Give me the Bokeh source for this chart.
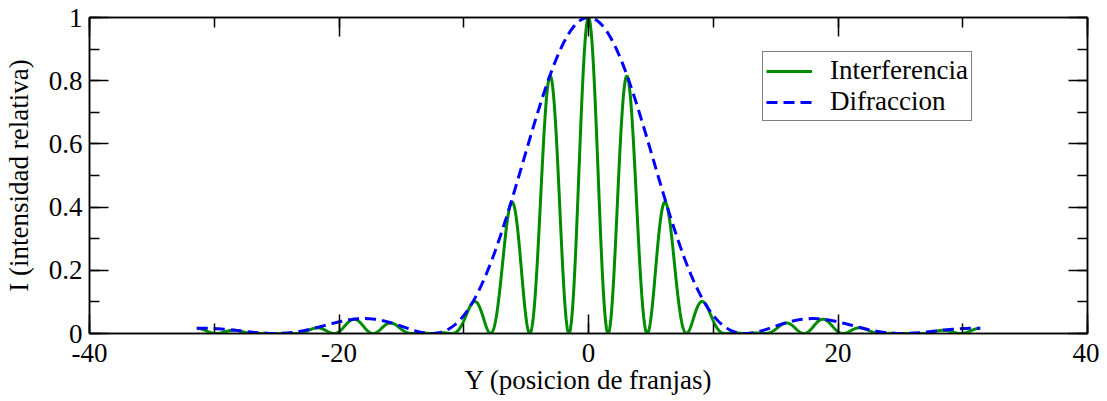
import numpy as np
from bokeh.plotting import figure
from bokeh.models import LinearAxis, SingleIntervalTicker, Range1d, Legend, LegendItem
from bokeh.embed import file_html
from bokeh.resources import INLINE

# ---- values ----
y_extent = [-31.4, 31.4]          # horizontal span of both curves
fringe_spacing = 3.14             # distance between interference maxima (0, ±3.14, ±6.28, ±9.42)
envelope_first_zero = 12.57       # first zero of the diffraction envelope
x_ticks = [-40, -20, 0, 20, 40]
x_tick_labels = ["-40", "-20", "0", "20", "40"]
y_ticks = [0, 0.2, 0.4, 0.6, 0.8, 1.0]
y_tick_labels = ["0", "0.2", "0.4", "0.6", "0.8", "1"]
series_names = ["Interferencia", "Difraccion"]
x_title = "Y (posicion de franjas)"
y_title = "I (intensidad relativa)"

# sampled curves (diffraction envelope and two-slit pattern inside it)
y_pos = np.linspace(y_extent[0], y_extent[1], 2001)
u = np.pi * y_pos / envelope_first_zero
difraccion = np.where(np.abs(u) < 1e-12, 1.0, (np.sin(u) / np.where(u == 0, 1, u)) ** 2)
interferencia = difraccion * np.cos(np.pi * y_pos / fringe_spacing) ** 2

FONT = "Liberation Serif"
FS = "27px"
GREEN = "#008c00"
BLUE = "#0000ff"

p = figure(width=1099, height=401, output_backend="svg", toolbar_location=None,
           x_range=Range1d(-40, 40), y_range=Range1d(0, 1),
           min_border_left=88, min_border_right=12, min_border_top=17, min_border_bottom=68,
           x_axis_location=None, y_axis_location=None)
p.grid.visible = False
p.outline_line_color = "black"
p.outline_line_width = 1.5
p.background_fill_color = "white"
p.border_fill_color = "white"

def style_axis(ax, ticks, labels, interval, show_labels):
    ax.ticker = SingleIntervalTicker(interval=interval, num_minor_ticks=2)
    ax.major_tick_in = 19
    ax.major_tick_out = 0
    ax.minor_tick_in = 10
    ax.minor_tick_out = 0
    ax.major_tick_line_color = "black"
    ax.minor_tick_line_color = "black"
    ax.major_tick_line_width = 1.5
    ax.minor_tick_line_width = 1.5
    ax.axis_line_color = "black"
    ax.axis_line_width = 1.5
    if show_labels:
        ax.major_label_overrides = {t: l for t, l in zip(ticks, labels)}
        ax.major_label_text_font = FONT
        ax.major_label_text_font_size = FS
        ax.major_label_text_color = "black"
    else:
        ax.major_label_text_font_size = "0px"
        ax.major_label_text_alpha = 0
        ax.major_label_standoff = 0

xb = LinearAxis(axis_label=x_title)
style_axis(xb, x_ticks, x_tick_labels, 20, True)
xb.major_label_standoff = 10
xb.axis_label_text_font = FONT
xb.axis_label_text_font_size = FS
xb.axis_label_text_font_style = "normal"
xb.axis_label_text_color = "black"
xb.axis_label_standoff = 0
p.add_layout(xb, "below")

yl = LinearAxis(axis_label=y_title)
style_axis(yl, y_ticks, y_tick_labels, 0.2, True)
yl.major_label_standoff = 7
yl.axis_label_text_font = FONT
yl.axis_label_text_font_size = FS
yl.axis_label_text_font_style = "normal"
yl.axis_label_text_color = "black"
yl.axis_label_standoff = 12
p.add_layout(yl, "left")

xt = LinearAxis()
style_axis(xt, x_ticks, x_tick_labels, 20, False)
p.add_layout(xt, "above")
yr = LinearAxis()
style_axis(yr, y_ticks, y_tick_labels, 0.2, False)
p.add_layout(yr, "right")

r1 = p.line(y_pos, interferencia, line_color=GREEN, line_width=3)
r2 = p.line(y_pos, difraccion, line_color=BLUE, line_width=3, line_dash="11 6")

legend = Legend(items=[LegendItem(label=series_names[0], renderers=[r1]),
                       LegendItem(label=series_names[1], renderers=[r2])],
                location=(673, 212), orientation="vertical")
legend.label_text_font = FONT
legend.label_text_font_size = FS
legend.label_text_color = "black"
legend.glyph_width = 46
legend.glyph_height = 20
legend.label_height = 20
legend.label_standoff = 18
legend.padding = 3
legend.spacing = -14
legend.margin = 0
legend.border_line_color = "black"
legend.border_line_width = 1.5
legend.background_fill_alpha = 1
p.add_layout(legend, "center")

open("out.html", "w").write(file_html(p, INLINE))
